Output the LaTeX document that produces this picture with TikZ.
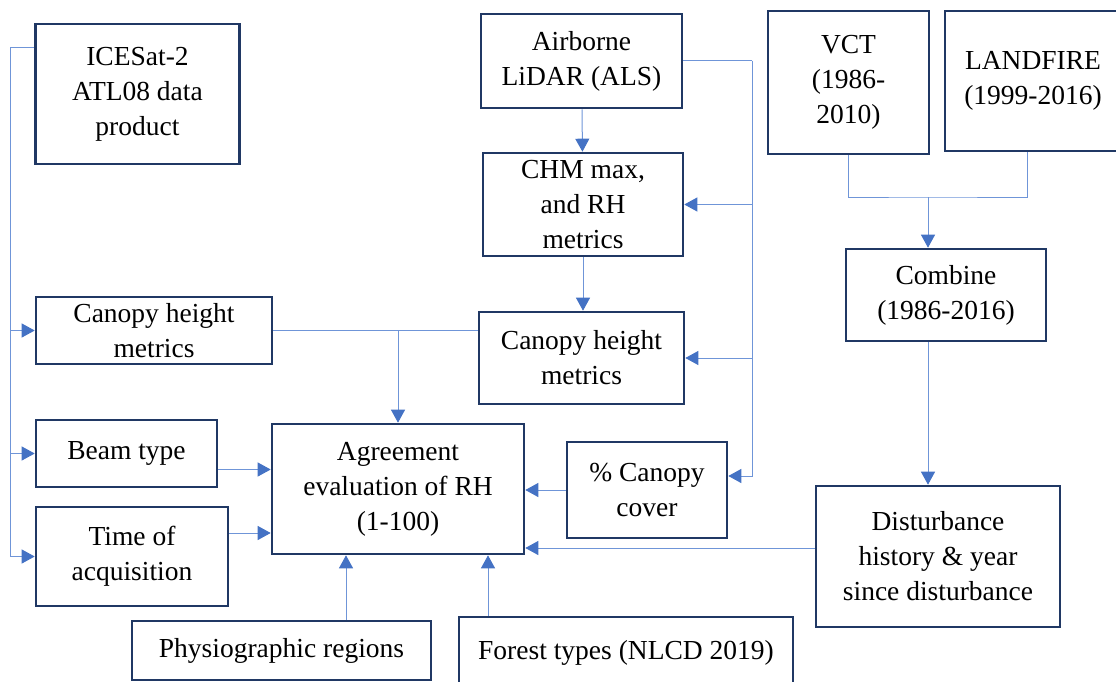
\documentclass[tikz,border=0pt]{standalone}
\usepackage{fontspec}
\setmainfont{Liberation Serif}
\usepackage{tikz}
\usetikzlibrary{arrows.meta}
\usetikzlibrary{calc}
\definecolor{boxblue}{RGB}{32,56,100}
\definecolor{lineblue}{RGB}{111,149,216}
\definecolor{tipblue}{RGB}{68,114,196}
\tikzstyle{block} = [draw=boxblue, line width=2.6pt,
	align=center, inner sep=0pt,
	font=\fontsize{27.5pt}{35pt}\selectfont]
\tikzstyle{link} = [draw=lineblue, line width=1pt]
\tikzstyle{arrow} = [link, -{Triangle[length=13pt, width=14pt, color=tipblue]}]
\newcommand{\boxat}[5]{\node (#1) [block,
	minimum width=#3,
	minimum height=#4
	] at #2 {#5}}

\begin{document}
\begin{tikzpicture}[x=1pt, y=-1pt]
	\useasboundingbox (0,0) rectangle (1116,682);
	\boxat{ice}{(137.5,94)}{204pt}{140pt}{ICESat-2\\ATL08 data\\product};
	\boxat{als}{(581.5,61)}{201pt}{94pt}{Airborne\\LiDAR (ALS)};
	\boxat{vct}{(848.5,82.5)}{161pt}{143pt}{VCT\\(1986-\\2010)};
	\boxat{lf}{(1033,81)}{176pt}{140pt}{LANDFIRE\\(1999-2016)};
	\boxat{chm}{(583,204.5)}{200pt}{103pt}{CHM max,\\and RH\\metrics};
	\boxat{comb}{(946,295)}{200pt}{92pt}{Combine\\(1986-2016)};
	\boxat{chl}{(154,330.5)}{236pt}{67pt}{Canopy height\\metrics};
	\boxat{chr}{(581.5,358)}{205pt}{92pt}{Canopy height\\metrics};
	\boxat{beam}{(126.5,453.5)}{181pt}{67pt}{Beam type};
	\boxat{agr}{(398,489)}{252pt}{130pt}{Agreement\\evaluation of RH\\(1-100)};
	\boxat{pcc}{(647,490)}{160pt}{96pt}{\% Canopy\\cover};
	\boxat{time}{(132,556.5)}{192pt}{99pt}{Time of\\acquisition};
	\boxat{dist}{(938,556.5)}{244pt}{141pt}{Disturbance\\history \& year\\since disturbance};
	\boxat{phys}{(281.5,650.5)}{299pt}{59pt}{Physiographic regions};
	\boxat{forest}{(626,653)}{334pt}{72pt}{Forest types (NLCD 2019)};

	\coordinate (trk) at (10,48);
	\coordinate (rbus) at (752,61);
	\coordinate (mrg) at (928,197);

	\draw [link] (trk -| ice.west) -- (trk);
	\draw [arrow] (trk) |- (chl.west);
	\draw [arrow] (trk) |- (beam.west);
	\draw [arrow] (trk) |- (time.west);

	\draw [arrow] (als) -- (chm);
	\draw [link] (als.east) -- (rbus);
	\draw [arrow] (rbus) |- (chm.east);
	\draw [arrow] (rbus) |- (chr.east);
	\draw [arrow] (rbus) |- ([yshift=14pt]pcc.east);
	\draw [arrow] (chm.south) -- (chm.south |- chr.north);

	\draw [link] (chl.east) -- (chl.east -| chr.west);
	\draw [arrow] (chl.east -| agr.north) -- (agr.north);
	\draw [arrow] ([yshift=-16pt]beam.east) -- ([yshift=-16pt]beam.east -| agr.west);
	\draw [arrow] ([yshift=23.5pt]time.east) -- ([yshift=23.5pt]time.east -| agr.west);
	\draw [arrow] ([xshift=-52pt]agr.south |- phys.north) -- ([xshift=-52pt]agr.south);
	\draw [arrow] ([xshift=90pt]agr.south |- forest.north) -- ([xshift=90pt]agr.south);
	\draw [arrow] (pcc.west) -- (pcc.west -| agr.east);
	\draw [arrow] ([yshift=8.5pt]dist.west) -- ([yshift=8.5pt]dist.west -| agr.east);

	\draw [link] (vct.south) |- (mrg) -| ([xshift=-6pt]lf.south);
	\draw [arrow] (mrg) -- (mrg |- comb.north);
	\draw [arrow] (mrg |- comb.south) -- (mrg |- dist.north);
\end{tikzpicture}
\end{document}
